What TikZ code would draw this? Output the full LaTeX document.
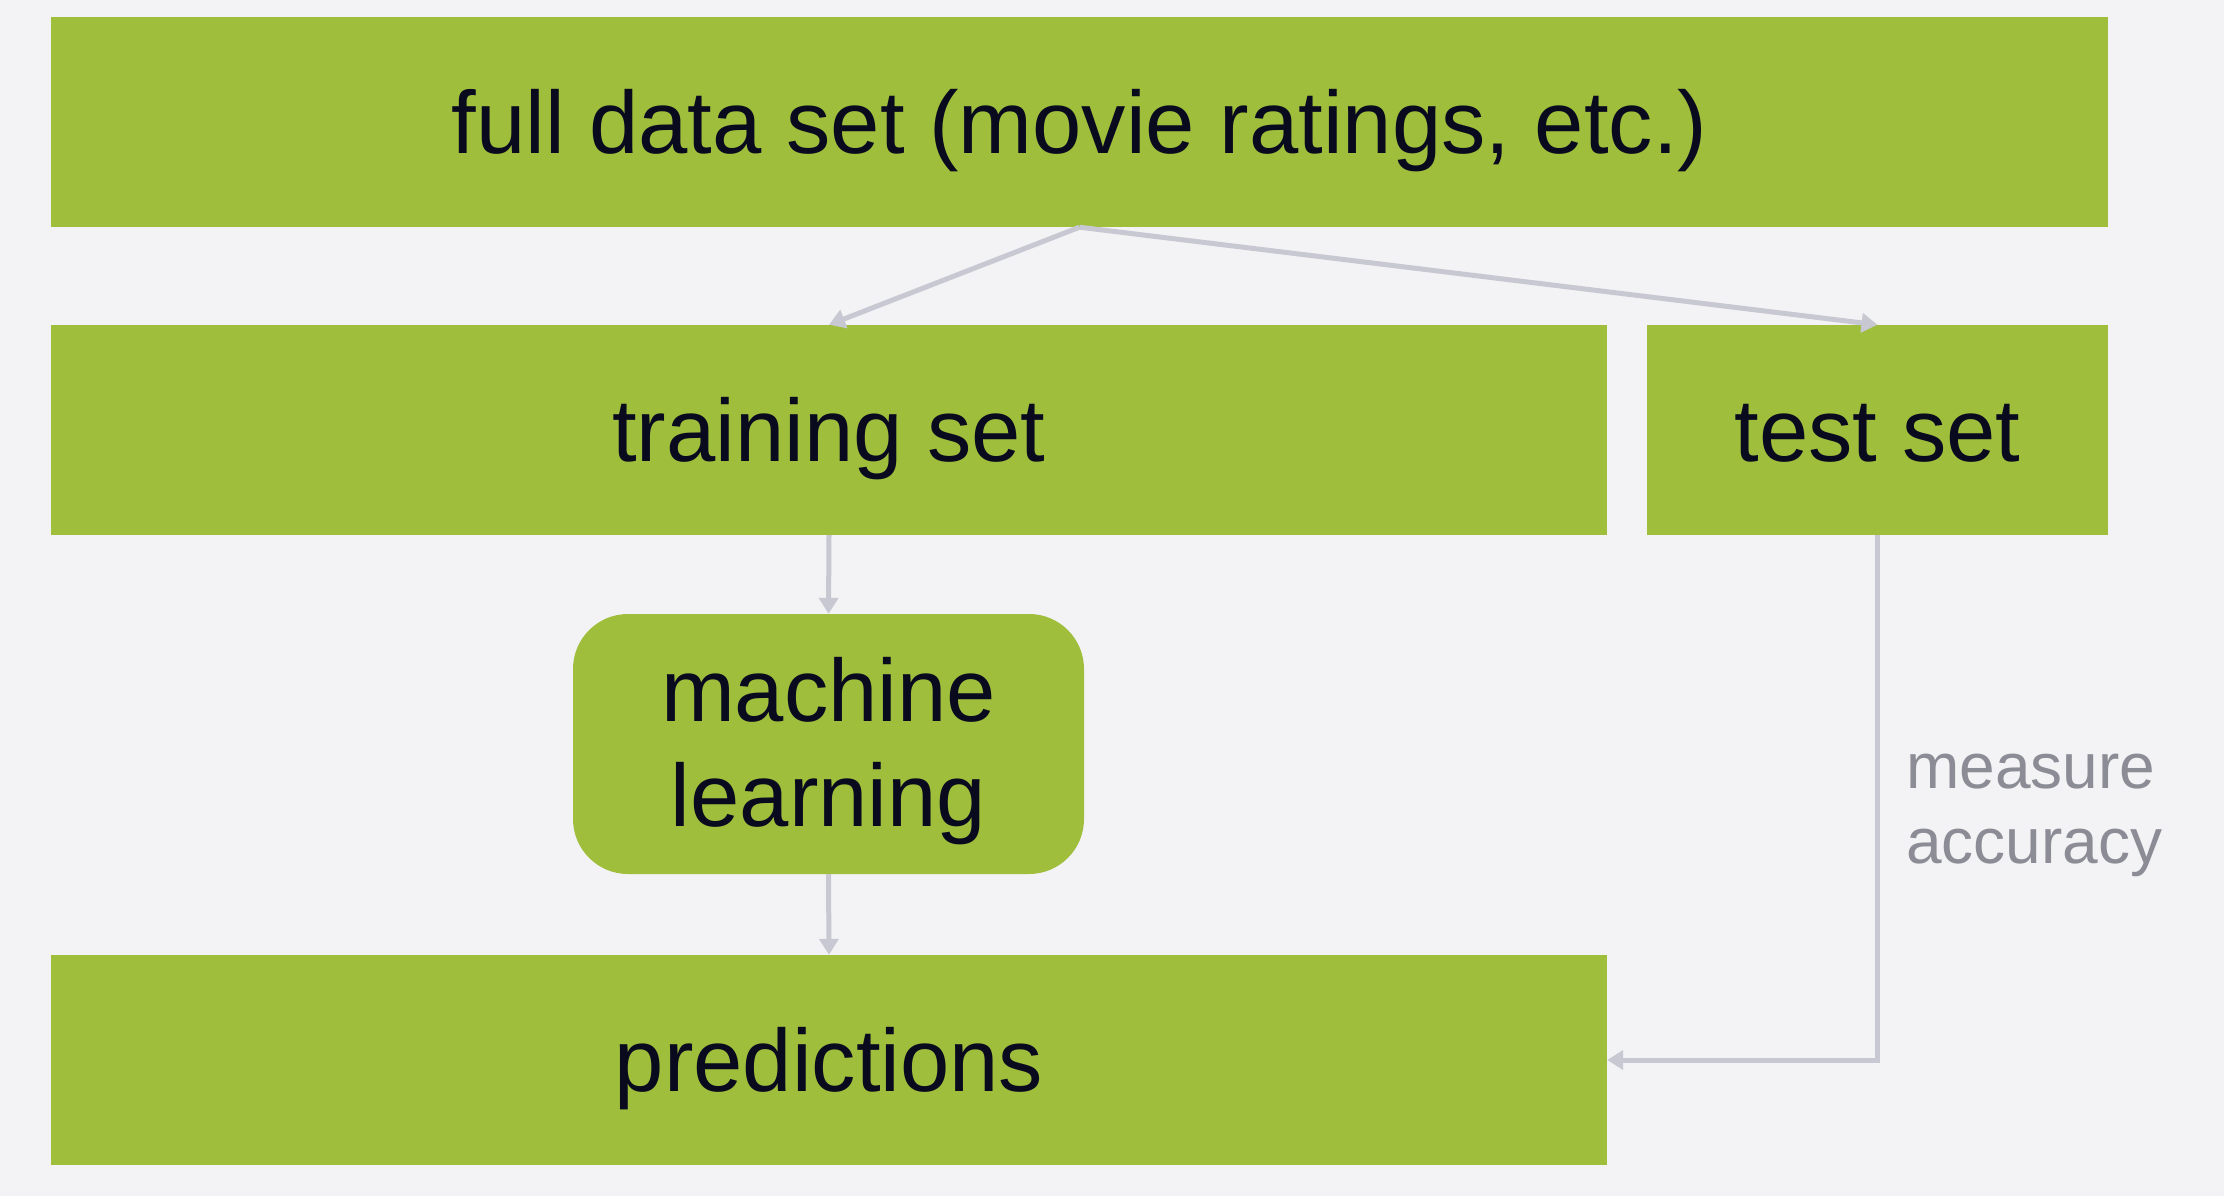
\documentclass[tikz,border=0pt]{standalone}
\usepackage{fontspec}
\setmainfont{Liberation Sans}
\usetikzlibrary{arrows.meta}
\definecolor{bg}{HTML}{F3F3F5}
\definecolor{boxgreen}{HTML}{9EBE3C}
\definecolor{arrowgrey}{HTML}{C8C8D2}
\definecolor{labelgrey}{HTML}{8C8C96}
\definecolor{textdark}{HTML}{0A0A1E}
\tikzset{
  greenbox/.style={fill=boxgreen, draw=none, inner sep=0pt, text=textdark,
    font=\fontsize{88.6}{105}\selectfont, align=center},
  oneline/.style={text height=66pt, text depth=3pt},
  flow/.style={draw=arrowgrey, line width=5pt,
    -{Triangle[width=19pt,length=16pt]}},
}
\begin{document}
\begin{tikzpicture}[x=1pt,y=-1pt]
\fill[bg] (0,0) rectangle (2224,1196);
\useasboundingbox (0,0) rectangle (2224,1196);
\node[greenbox, oneline, minimum width=2057pt, minimum height=210pt] (full) at (1079.5,122) {full data set (movie ratings, etc.)};
\node[greenbox, oneline, minimum width=1556pt, minimum height=210pt] (train) at (829,430) {training set};
\node[greenbox, oneline, minimum width=461pt, minimum height=210pt] (test) at (1877.5,430) {test set};
\node[greenbox, minimum width=511pt, minimum height=260pt, rounded corners=55pt] (ml) at (828.5,744) {\rule{0pt}{78pt}machine\\learning};
\node[greenbox, oneline, minimum width=1556pt, minimum height=210pt] (pred) at (829,1060) {predictions};
\draw[flow] (full.south) -- (train.north);
\draw[flow] (full.south) -- (test.north);
\draw[flow] (train.south) -- (ml.north);
\draw[flow] (ml.south) -- (pred.north);
\draw[flow] (test.south) |- (pred.east);
\node[anchor=west, align=left, text=labelgrey, inner sep=0pt, font=\fontsize{64}{75}\selectfont] (acc) at (1906,815) {measure\\accuracy};
\end{tikzpicture}
\end{document}
